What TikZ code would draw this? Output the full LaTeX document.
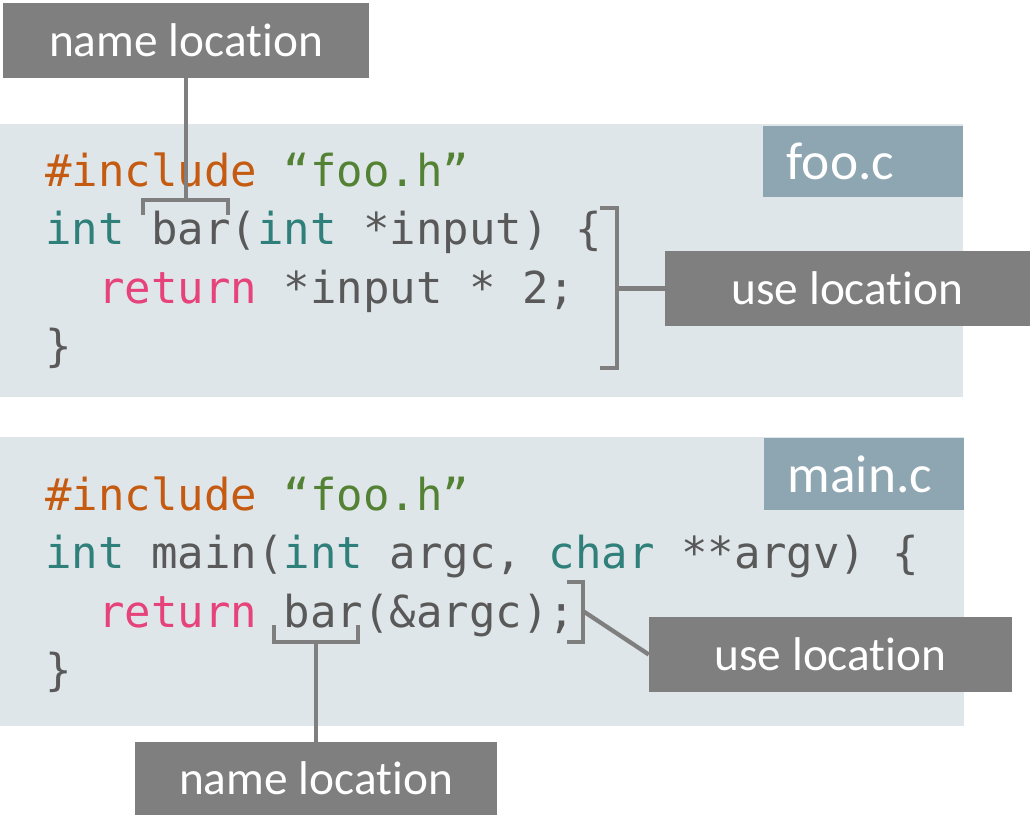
\documentclass[tikz,border=0pt]{standalone}
\usepackage{fontspec}
\setmainfont{Carlito}[Ligatures=NoCommon]
\setmonofont{DejaVu Sans Mono}
\usetikzlibrary{positioning}

\definecolor{panelbg}{HTML}{DFE6E9}
\definecolor{tagbg}{HTML}{8EA6B2}
\definecolor{labelbg}{HTML}{7F7F7F}
\definecolor{kwinc}{HTML}{C55A11}
\definecolor{kwstr}{HTML}{548235}
\definecolor{kwtype}{HTML}{2F7F7A}
\definecolor{kwret}{HTML}{E6437B}
\definecolor{codefg}{HTML}{595959}

\tikzset{
  labelbox/.style={fill=labelbg, text=white, inner sep=0pt,
    font=\fontsize{35.5}{40}\selectfont, minimum height=56.25pt},
  tagbox/.style={fill=tagbg, text=white, inner ysep=0pt, inner xsep=18pt,
    text width=114pt, align=left, anchor=north east,
    font=\fontsize{40}{46}\selectfont},
  codeline/.style={anchor=base west, inner sep=0pt, text=codefg,
    font=\ttfamily\fontsize{33}{40}\selectfont},
  bracket/.style={draw=labelbg, line width=3.2pt},
}

\newcommand{\kinc}[1]{\textcolor{kwinc}{#1}}
\newcommand{\kstr}[1]{\textcolor{kwstr}{#1}}
\newcommand{\ktype}[1]{\textcolor{kwtype}{#1}}
\newcommand{\kret}[1]{\textcolor{kwret}{#1}}

\begin{document}
\begin{tikzpicture}[x=0.75pt,y=-0.75pt]
            \useasboundingbox (0,0) rectangle (1030,815);

            % code panels
            \fill[panelbg] (0,124) rectangle (963,397);
            \fill[panelbg] (0,437) rectangle (964,726);

            \node[tagbox, minimum height=53.25pt] (fooTag) at (963,126) {foo.c};
            \node[tagbox, minimum height=54pt] (mainTag) at (964,438) {main.c};

            % foo.c
            \node[codeline] (foo1) at (45,186) {\kinc{\#include} \kstr{“foo.h”}};
            \node[codeline] (foo2) at (45,244.5) {\ktype{int} bar(\ktype{int} *input) \{};
            \node[codeline] (foo3) at (45,303) {\phantom{xx}\kret{return} *input * 2;};
            \node[codeline] (foo4) at (45,361.5) {\}};

            % main.c
            \node[codeline] (main1) at (45,510) {\kinc{\#include} \kstr{“foo.h”}};
            \node[codeline] (main2) at (45,568.5) {\ktype{int} main(\ktype{int} argc, \ktype{char} **argv) \{};
            \node[codeline] (main3) at (45,627) {\phantom{xx}\kret{return} bar(\&argc);};
            \node[codeline] (main4) at (45,685.5) {\}};

            % labels
            \node[labelbox, minimum width=274.5pt] (nameTop) at (186,40.5) {name location};
            \node[labelbox, minimum width=273.75pt] (useTop) at (847.5,288.5) {use location};
            \node[labelbox, minimum width=272.25pt] (useMain) at (830.5,654.5) {use location};
            \node[labelbox, minimum width=271.5pt, minimum height=54.75pt] (nameMain) at (316,778.5) {name location};

            % brackets
            \draw[bracket] (143,215) -- (143,200) -- (228,200) -- (228,215);
            \draw[bracket] (600,208) -- (617,208) -- (617,368) -- (600,368);
            \draw[bracket] (274,625) -- (274,642) -- (358,642) -- (358,625);
            \draw[bracket] (567,582) -- (583,582) -- (583,642) -- (567,642);

            \coordinate (barTop) at (186,200);
            \coordinate (bodyTop) at (617,288.5);
            \coordinate (barMain) at (316,642);
            \coordinate (callMain) at (583,611);

            \draw[bracket] (nameTop.south) -- (barTop);
            \draw[bracket] (bodyTop) -- (useTop.west);
            \draw[bracket] (barMain) -- (nameMain.north);
            \draw[bracket] (callMain) -- (useMain.west);
        \end{tikzpicture}
\end{document}
